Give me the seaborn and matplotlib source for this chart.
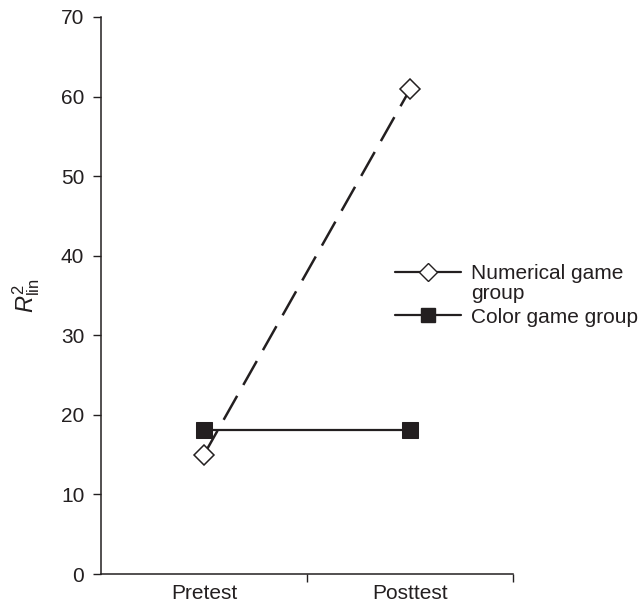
import matplotlib
matplotlib.use("Agg")
import matplotlib.pyplot as plt
import seaborn as sns
import pandas as pd
from matplotlib.lines import Line2D
from matplotlib.legend_handler import HandlerLine2D

sessions = ["Pretest", "Posttest"]
numerical_group = [15.0, 60.9]
color_group = [18.1, 18.1]
group_names = ["Numerical game\ngroup", "Color game group"]
y_ticks = [0, 10, 20, 30, 40, 50, 60, 70]

sns.set_theme(style="ticks")
plt.rcParams['font.family'] = ['Liberation Sans', 'DejaVu Sans']
plt.rcParams['mathtext.fontset'] = 'custom'
plt.rcParams['mathtext.rm'] = 'Liberation Sans'
plt.rcParams['mathtext.it'] = 'Liberation Sans:italic'

ink = "#231f20"

df = pd.DataFrame({
    "session": sessions * 2,
    "value": numerical_group + color_group,
    "group": [group_names[0]] * 2 + [group_names[1]] * 2,
})

fig = plt.figure(figsize=(6.43, 6.08), dpi=100)
ax = fig.add_axes([101/643, 34/608, (513-101)/643, (574-17)/608])

num = df[df["group"] == group_names[0]]
col = df[df["group"] == group_names[1]]

sns.lineplot(data=col, x="session", y="value", ax=ax, color=ink,
             linewidth=1.6, marker="s", markersize=11, markeredgecolor=ink,
             markerfacecolor=ink, sort=False, zorder=2)
sns.lineplot(data=num, x="session", y="value", ax=ax, color=ink,
             linewidth=1.8, dashes=False, marker="D", markersize=10,
             markerfacecolor="white", markeredgecolor=ink, markeredgewidth=1.1,
             sort=False, zorder=3)
line = ax.lines[-1]
line.set_linestyle((0, (11, 5)))

ax.set_xlim(-0.5, 1.5)
ax.set_ylim(0, 70)
ax.set_yticks(y_ticks)
ax.set_xticks([0.5, 1.5])
ax.set_xticklabels([])
ax.set_xticks([0, 1], minor=True)
ax.set_xticklabels(sessions, minor=True)
ax.tick_params(axis="x", which="minor", length=0, labelsize=15, pad=7, labelcolor=ink)
ax.tick_params(axis="x", which="major", length=6, width=1, direction="out", color=ink)
ax.tick_params(axis="y", length=6, width=1, direction="out", labelsize=15, color=ink,
               labelcolor=ink, pad=6)
for s in ["top", "right"]:
    ax.spines[s].set_visible(False)
for s in ["left", "bottom"]:
    ax.spines[s].set_linewidth(1.1)
    ax.spines[s].set_color(ink)
ax.set_xlabel("")
ax.set_ylabel(r"$R^2_{\rm lin}$", fontsize=17, labelpad=14, color=ink)


class TopAlignedHandler(HandlerLine2D):
    """Place the handle beside the first line of a two-line label."""
    def __init__(self, shift, **kw):
        super().__init__(**kw)
        self.shift = shift

    def create_artists(self, legend, orig_handle, xdescent, ydescent,
                       width, height, fontsize, trans):
        return super().create_artists(legend, orig_handle, xdescent,
                                      ydescent - 2 * self.shift, width, height,
                                      fontsize, trans)


h_num = Line2D([], [], color=ink, lw=1.6, marker="D", markersize=9,
               markerfacecolor="white", markeredgecolor=ink)
h_col = Line2D([], [], color=ink, lw=1.6, marker="s", markersize=10,
               markerfacecolor=ink, markeredgecolor=ink)
leg = fig.legend([h_num, h_col], group_names, loc="upper left",
                 bbox_to_anchor=(380/643, 1 - 249/608),
                 frameon=False, fontsize=15, handlelength=3.2, handletextpad=0.45,
                 labelspacing=0.22, borderpad=0.2,
                 handler_map={h_num: TopAlignedHandler(shift=8.3)})
for t in leg.get_texts():
    t.set_color(ink)
    t.set_linespacing(1.1)

fig.savefig("out.png", dpi=100)
